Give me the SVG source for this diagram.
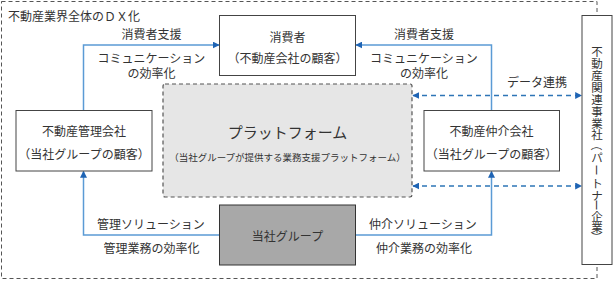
<svg xmlns="http://www.w3.org/2000/svg" width="613" height="281" viewBox="0 0 613 281">
<defs>
<style>
text{font-family:"Noto Sans CJK JP","Noto Sans",sans-serif;font-size:12px;fill:#333;dominant-baseline:central;text-anchor:middle}
.v{font-size:11.5px}
.box{fill:#fff;stroke:#444;stroke-width:1}
.conn{fill:none;stroke:#5b9bd5;stroke-width:1.5}
.dash{fill:none;stroke:#2e75b6;stroke-width:1.5;stroke-dasharray:5 4}
</style>
<marker id="ah" viewBox="0 0 10 10" refX="9" refY="5" markerWidth="7" markerHeight="7" markerUnits="userSpaceOnUse" orient="auto-start-reverse">
<path d="M0,0 L10,5 L0,10 z" fill="#1f64b4"/>
</marker>
</defs>
<rect x="1.5" y="1.5" width="595.5" height="277" fill="none" stroke="#555" stroke-width="1" stroke-dasharray="4 3"/>
<text x="8" y="15" style="text-anchor:start">不動産業界全体のＤＸ化</text>
<g id="connectors">
<path class="conn" d="M83.5 110 V45 H219" marker-end="url(#ah)"/>
<path class="conn" d="M491.5 110 V45 H356" marker-end="url(#ah)"/>
<path class="conn" d="M219.5 235 H83.5 V171.5" marker-end="url(#ah)"/>
<path class="conn" d="M355.5 235 H491.5 V171.5" marker-end="url(#ah)"/>
<path class="dash" d="M413 95.5 H581.5" marker-start="url(#ah)" marker-end="url(#ah)"/>
<path class="dash" d="M413 186 H581.5" marker-start="url(#ah)" marker-end="url(#ah)"/>
<text x="151.5" y="33">消費者支援</text>
<text x="151.5" y="57">コミュニケーション</text>
<text x="151.5" y="72">の効率化</text>
<text x="424" y="33">消費者支援</text>
<text x="424" y="57">コミュニケーション</text>
<text x="424" y="72">の効率化</text>
<text x="537" y="81.5">データ連携</text>
<text x="151" y="223">管理ソリューション</text>
<text x="151.5" y="247.5">管理業務の効率化</text>
<text x="423" y="223">仲介ソリューション</text>
<text x="424" y="247.5">仲介業務の効率化</text>
</g>
<g id="consumer">
<rect class="box" x="219.5" y="15.5" width="136" height="60"/>
<text x="287.5" y="36">消費者</text>
<text x="287.5" y="57.5">（不動産会社の顧客）</text>
</g>
<g id="platform">
<rect x="163" y="84" width="249" height="113" rx="2" fill="#e6e6e6" stroke="#555" stroke-width="1.2" stroke-dasharray="4 3"/>
<text x="287.5" y="131.5" style="font-size:15px">プラットフォーム</text>
<text x="287.5" y="157" style="font-size:9.5px">（当社グループが提供する業務支援プラットフォーム）</text>
</g>
<g id="mgmt">
<rect class="box" x="16" y="110.5" width="136" height="60.5"/>
<text x="84" y="130">不動産管理会社</text>
<text x="84" y="153.5">（当社グループの顧客）</text>
</g>
<g id="broker">
<rect class="box" x="424" y="110.5" width="135.5" height="60.5"/>
<text x="491.5" y="130">不動産仲介会社</text>
<text x="491.5" y="153.5">（当社グループの顧客）</text>
</g>
<g id="group">
<rect x="219.5" y="205" width="136" height="60" fill="#a8a8a8" stroke="#333" stroke-width="1"/>
<text x="287.5" y="235.5">当社グループ</text>
</g>
<g id="partner">
<rect class="box" x="582" y="15.5" width="30" height="249"/>
<text class="v" x="597" y="50.5">不</text>
<text class="v" x="597" y="62.5">動</text>
<text class="v" x="597" y="74.5">産</text>
<text class="v" x="597" y="86.5">関</text>
<text class="v" x="597" y="98.5">連</text>
<text class="v" x="597" y="110.5">事</text>
<text class="v" x="597" y="122.5">業</text>
<text class="v" x="597" y="134">社</text>
<text class="v" x="597" y="145" transform="rotate(90 597 145)">（</text>
<text class="v" x="597" y="157">パ</text>
<text class="v" x="597" y="170" transform="rotate(90 597 170)">ー</text>
<text class="v" x="597" y="183">ト</text>
<text class="v" x="597" y="195">ナ</text>
<text class="v" x="597" y="205" transform="rotate(90 597 205)">ー</text>
<text class="v" x="597" y="216">企</text>
<text class="v" x="597" y="227">業</text>
<text class="v" x="597" y="237" transform="rotate(90 597 237)">）</text>
</g>
</svg>
